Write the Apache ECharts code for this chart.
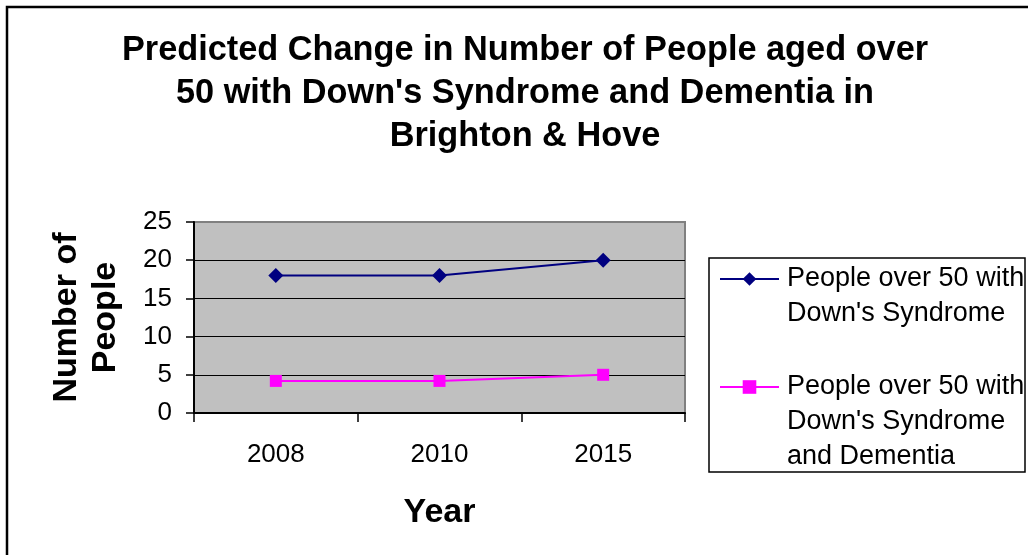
<!DOCTYPE html>
<html>
<head>
<meta charset="utf-8">
<script src="https://cdn.jsdelivr.net/npm/echarts@6/dist/echarts.min.js"></script>
<style>
  html, body { margin: 0; padding: 0; background: #fff; }
  #chart { width: 1028px; height: 555px; }
</style>
</head>
<body>
<div id="chart"></div>
<script>
// Years on the category axis
const years = ['2008', '2010', '2015'];
// Predicted number of people aged over 50
const downsSyndrome = [18, 18, 20];
const downsWithDementia = [4.2, 4.2, 5];
// Series names and their wrapped legend labels
const seriesNames = [
  "People over 50 with Down's Syndrome",
  "People over 50 with Down's Syndrome and Dementia"
];
const legendLines = [
  ["People over 50 with", "Down's Syndrome"],
  ["People over 50 with", "Down's Syndrome", "and Dementia"]
];
// Value axis range
const yMin = 0, yMax = 25, yStep = 5;

const FONT = "'Liberation Sans', Arial, sans-serif";
const LH = 35; // legend line height

const chart = echarts.init(document.getElementById('chart'), null, { renderer: 'canvas' });

// The legend icon is centred on the label block, so blank lines are put
// in front of the label to bring its first line level with the icon.
function legendFor(i, firstLineCenter) {
  const lines = legendLines[i];
  const blanks = lines.length - 1;
  const text = new Array(blanks).fill(' ').concat(lines).join('\n');
  return {
    orient: 'vertical',
    left: 719,
    top: firstLineCenter - (blanks + 0.5) * LH,
    padding: 0,
    itemWidth: 59,
    itemHeight: 17,
    data: [seriesNames[i]],
    formatter: () => text,
    selectedMode: false,
    textStyle: {
      fontFamily: FONT,
      fontSize: 27,
      color: '#000',
      lineHeight: LH,
      padding: [0, 0, 0, 3]
    }
  };
}

chart.setOption({
  backgroundColor: '#fff',
  animation: false,
  textStyle: { fontFamily: FONT },
  title: {
    text: "Predicted Change in Number of People aged over\n50 with Down's Syndrome and Dementia in\nBrighton & Hove",
    left: 525,
    top: 29,
    padding: 0,
    textAlign: 'center',
    textStyle: {
      fontFamily: FONT,
      fontSize: 34.3,
      fontWeight: 'bold',
      color: '#000',
      lineHeight: 43
    }
  },
  graphic: [
    // outer frame
    {
      type: 'rect', z: 0,
      shape: { x: 7, y: 7, width: 1100, height: 600 },
      style: { fill: 'none', stroke: '#000', lineWidth: 2.5 }
    },
    // legend frame
    {
      type: 'rect', z: 0,
      shape: { x: 709, y: 258, width: 316, height: 214 },
      style: { fill: '#fff', stroke: '#000', lineWidth: 1.5 }
    }
  ],
  legend: [
    legendFor(0, 279),
    legendFor(1, 387)
  ],
  grid: {
    left: 194, top: 222, width: 491, height: 191,
    show: true,
    backgroundColor: '#C0C0C0',
    borderColor: '#808080',
    borderWidth: 2
  },
  xAxis: {
    type: 'category',
    data: years,
    boundaryGap: true,
    name: 'Year',
    nameLocation: 'middle',
    nameGap: 83,
    nameTextStyle: { fontFamily: FONT, fontSize: 34, fontWeight: 'bold', color: '#000', lineHeight: 33 },
    axisLine: { lineStyle: { color: '#000', width: 2 } },
    axisTick: { show: true, length: 9, lineStyle: { color: '#000', width: 1.5 } },
    axisLabel: { fontFamily: FONT, fontSize: 26, color: '#000', margin: 29 },
    splitLine: { show: false }
  },
  yAxis: {
    type: 'value',
    min: yMin, max: yMax, interval: yStep,
    name: 'Number of\nPeople',
    nameLocation: 'middle',
    nameGap: 69,
    nameTextStyle: { fontFamily: FONT, fontSize: 34, fontWeight: 'bold', color: '#000', lineHeight: 39 },
    axisLine: { show: true, lineStyle: { color: '#000', width: 2 } },
    axisTick: { show: true, length: 8, lineStyle: { color: '#000', width: 1.5 } },
    axisLabel: { fontFamily: FONT, fontSize: 26, color: '#000', margin: 22 },
    splitLine: {
      show: true, showMinLine: false, showMaxLine: false,
      lineStyle: { color: '#000', width: 1 }
    }
  },
  series: [
    {
      name: seriesNames[0],
      type: 'line',
      data: downsSyndrome,
      symbol: 'diamond',
      symbolSize: 15,
      color: '#000080',
      lineStyle: { color: '#000080', width: 2 },
      itemStyle: { color: '#000080' }
    },
    {
      name: seriesNames[1],
      type: 'line',
      data: downsWithDementia,
      symbol: 'rect',
      symbolSize: 12,
      color: '#FF00FF',
      lineStyle: { color: '#FF00FF', width: 2 },
      itemStyle: { color: '#FF00FF' }
    }
  ]
});
</script>
</body>
</html>
